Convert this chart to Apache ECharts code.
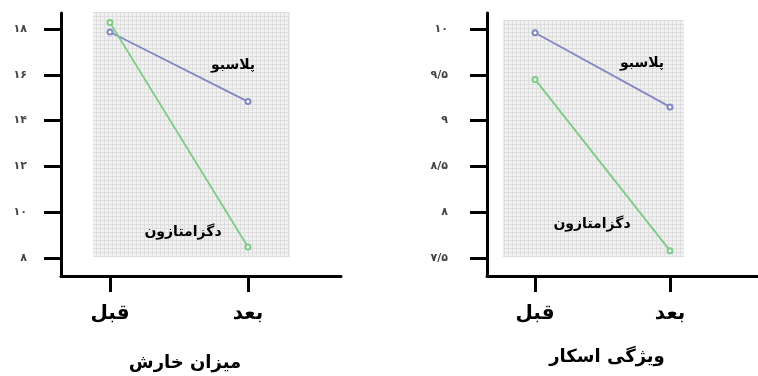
<!DOCTYPE html>
<html>
<head>
<meta charset="utf-8">
<script src="https://cdn.jsdelivr.net/npm/echarts@6/dist/echarts.min.js"></script>
<style>
  html, body { margin: 0; padding: 0; background: #fff; }
  #chart { width: 758px; height: 376px; }
</style>
</head>
<body>
<div id="chart"></div>
<script>
// data
var periods = ["قبل", "بعد"];
var itchPlacebo = [17.87, 14.83];
var itchDexa = [18.28, 8.48];
var scarPlacebo = [9.96, 9.15];
var scarDexa = [9.45, 7.58];

var itchTicks = [8, 10, 12, 14, 16, 18];
var itchTickLabels = ["۸", "۱۰", "۱۲", "۱۴", "۱۶", "۱۸"];
var scarTicks = [7.5, 8, 8.5, 9, 9.5, 10];
var scarTickLabels = ["۷/۵", "۸", "۸/۵", "۹", "۹/۵", "۱۰"];

var seriesNames = ["پلاسبو", "دگزامتازون"];
var chartTitles = ["میزان خارش", "ویژگی اسکار"];

var placeboColor = "#8288c2";
var dexaColor = "#7ccb86";
var font = "DejaVu Sans";

// dotted grey background used behind each plot
function makePattern() {
  var c = document.createElement("canvas");
  c.width = 4;
  c.height = 4;
  var ctx = c.getContext("2d");
  ctx.fillStyle = "#dedede";
  ctx.fillRect(0, 0, 4, 4);
  ctx.fillStyle = "#f1f1f1";
  ctx.fillRect(1, 1, 3, 3);
  return c;
}
var pattern = makePattern();

function pts(vals) {
  return vals.map(function (v, i) { return [i, v]; });
}

function lineSeries(idx, vals, color) {
  return {
    type: "line",
    xAxisIndex: idx,
    yAxisIndex: idx,
    data: pts(vals),
    symbol: "emptyCircle",
    symbolSize: 5,
    lineStyle: { color: color, width: 1.8 },
    itemStyle: { color: color, borderWidth: 1.2 },
    z: 3
  };
}

function xAxisOf(idx, min, max) {
  return {
    type: "value",
    gridIndex: idx,
    min: min,
    max: max,
    splitLine: { show: false },
    axisLine: { show: true, onZero: false, lineStyle: { color: "#000", width: 3 } },
    axisTick: { show: true, customValues: [0, 1], length: 16, lineStyle: { color: "#000", width: 3 } },
    axisLabel: {
      customValues: [0, 1],
      margin: 28,
      fontFamily: font,
      fontSize: 20,
      fontWeight: "bold",
      color: "#000",
      formatter: function (v) { return periods[Math.round(v)]; }
    }
  };
}

function yAxisOf(idx, min, max, ticks, labels, margin) {
  return {
    type: "value",
    gridIndex: idx,
    min: min,
    max: max,
    splitLine: { show: false },
    axisLine: { show: true, onZero: false, lineStyle: { color: "#000", width: 3 } },
    axisTick: { show: true, customValues: ticks, length: 17, lineStyle: { color: "#000", width: 3 } },
    axisLabel: {
      customValues: ticks,
      margin: margin,
      fontFamily: font,
      fontSize: 11,
      fontWeight: "bold",
      color: "#444",
      formatter: function (v) {
        var i = ticks.indexOf(v);
        return i >= 0 ? labels[i] : "";
      }
    }
  };
}

function label(x, y, s, size) {
  return {
    type: "text",
    x: x,
    y: y,
    style: { text: s, fontFamily: font, fontSize: size, fontWeight: "bold", fill: "#000", align: "center", verticalAlign: "middle" },
    z: 5
  };
}

var myChart = echarts.init(document.getElementById("chart"));

var option = {
  animation: false,
  grid: [
    { left: 61, top: 13, width: 280, height: 263 },
    { left: 487, top: 13, width: 271, height: 263 }
  ],
  xAxis: [
    xAxisOf(0, -0.355, 1.674),
    xAxisOf(1, -0.356, 1.652)
  ],
  yAxis: [
    yAxisOf(0, 7.21, 18.7, itchTicks, itchTickLabels, 34),
    yAxisOf(1, 7.3035, 10.175, scarTicks, scarTickLabels, 39)
  ],
  graphic: [
    {
      type: "rect",
      shape: { x: 93, y: 12, width: 197, height: 245 },
      style: { fill: { image: pattern, repeat: "repeat" } },
      z: 0
    },
    {
      type: "rect",
      shape: { x: 503, y: 20, width: 181, height: 237 },
      style: { fill: { image: pattern, repeat: "repeat" } },
      z: 0
    },
    label(233, 65, seriesNames[0], 14),
    label(183, 232, seriesNames[1], 14),
    label(642, 63, seriesNames[0], 14),
    label(592, 224, seriesNames[1], 14),
    label(185, 363, chartTitles[0], 18),
    label(607, 357, chartTitles[1], 18)
  ],
  series: [
    lineSeries(0, itchPlacebo, placeboColor),
    lineSeries(0, itchDexa, dexaColor),
    lineSeries(1, scarPlacebo, placeboColor),
    lineSeries(1, scarDexa, dexaColor)
  ]
};
myChart.setOption(option);
</script>
</body>
</html>
